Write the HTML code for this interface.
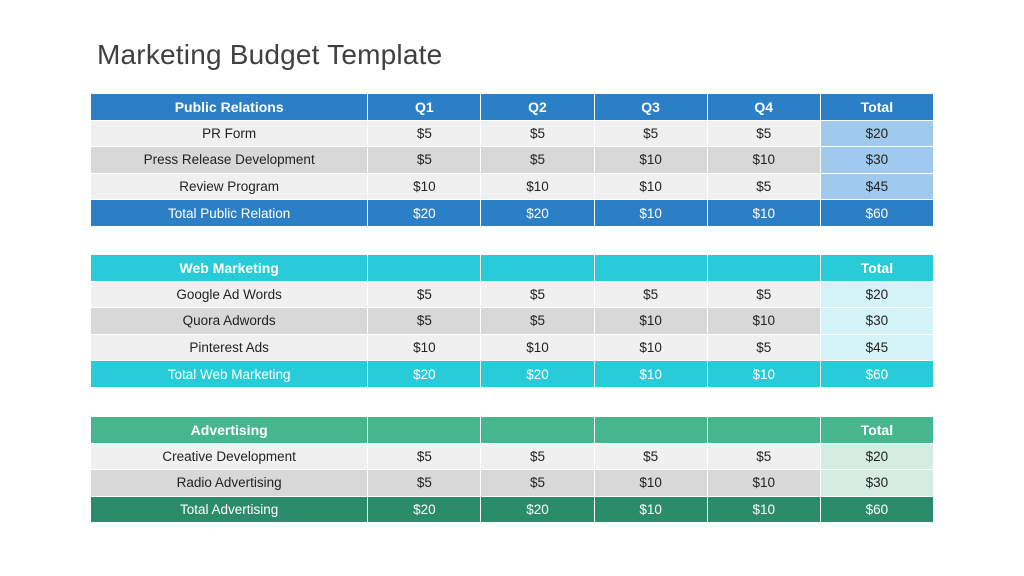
<!DOCTYPE html>
<html><head><meta charset="utf-8"><style>
body{margin:0;width:1024px;height:576px;background:#fff;font-family:"Liberation Sans",sans-serif;position:relative;overflow:hidden}
h1{position:absolute;left:97px;top:39px;margin:0;font-weight:normal;font-size:28px;color:#404040;letter-spacing:0.2px}
table{position:absolute;left:90px;width:844px;border-collapse:collapse;table-layout:fixed}
td{border:1px solid #fff;text-align:center;font-size:13.5px;color:#222;padding:0;height:25.6px}
col.a{width:277px}col.b{width:113px}
tr.h td{font-weight:bold;color:#fff;font-size:14px}
tr.t td{color:#fff}
tr.l td{background:#f0f0f0}tr.d td{background:#d8d8d8}
</style></head><body>
<h1>Marketing Budget Template</h1>
<table style="top:93px"><colgroup><col class="a"><col class="b"><col class="b"><col class="b"><col class="b"><col class="b"></colgroup>
<tr class="h" style="background:#2a7fc6"><td>Public Relations</td><td>Q1</td><td>Q2</td><td>Q3</td><td>Q4</td><td>Total</td></tr>
<tr class="l"><td>PR Form</td><td>$5</td><td>$5</td><td>$5</td><td>$5</td><td style="background:#9fcaee">$20</td></tr>
<tr class="d"><td>Press Release Development</td><td>$5</td><td>$5</td><td>$10</td><td>$10</td><td style="background:#9fcaee">$30</td></tr>
<tr class="l"><td>Review Program</td><td>$10</td><td>$10</td><td>$10</td><td>$5</td><td style="background:#9fcaee">$45</td></tr>
<tr class="t" style="background:#2a7fc6"><td>Total Public Relation</td><td>$20</td><td>$20</td><td>$10</td><td>$10</td><td>$60</td></tr>
</table>
<table style="top:254px"><colgroup><col class="a"><col class="b"><col class="b"><col class="b"><col class="b"><col class="b"></colgroup>
<tr class="h" style="background:#28ccd8"><td>Web Marketing</td><td></td><td></td><td></td><td></td><td>Total</td></tr>
<tr class="l"><td>Google Ad Words</td><td>$5</td><td>$5</td><td>$5</td><td>$5</td><td style="background:#d4f3f6">$20</td></tr>
<tr class="d"><td>Quora Adwords</td><td>$5</td><td>$5</td><td>$10</td><td>$10</td><td style="background:#d4f3f6">$30</td></tr>
<tr class="l"><td>Pinterest Ads</td><td>$10</td><td>$10</td><td>$10</td><td>$5</td><td style="background:#d4f3f6">$45</td></tr>
<tr class="t" style="background:#28ccd8"><td>Total Web Marketing</td><td>$20</td><td>$20</td><td>$10</td><td>$10</td><td>$60</td></tr>
</table>
<table style="top:416px"><colgroup><col class="a"><col class="b"><col class="b"><col class="b"><col class="b"><col class="b"></colgroup>
<tr class="h" style="background:#45b68e"><td>Advertising</td><td></td><td></td><td></td><td></td><td>Total</td></tr>
<tr class="l"><td>Creative Development</td><td>$5</td><td>$5</td><td>$5</td><td>$5</td><td style="background:#d4ece1">$20</td></tr>
<tr class="d"><td>Radio Advertising</td><td>$5</td><td>$5</td><td>$10</td><td>$10</td><td style="background:#d4ece1">$30</td></tr>
<tr class="t" style="background:#2a8c6b"><td>Total Advertising</td><td>$20</td><td>$20</td><td>$10</td><td>$10</td><td>$60</td></tr>
</table>
</body></html>
